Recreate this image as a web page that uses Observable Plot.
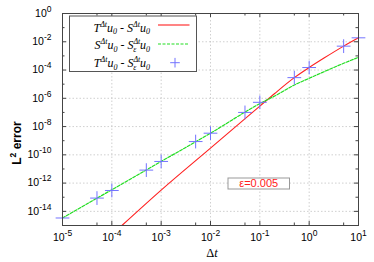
<!DOCTYPE html>
<html>
<head>
<meta charset="utf-8">
<script src="https://cdn.jsdelivr.net/npm/d3@7"></script>
<script src="https://cdn.jsdelivr.net/npm/@observablehq/plot@0.6"></script>
<style>
  html, body { margin: 0; padding: 0; background: white; }
  #chart { width: 374px; height: 262px; }
</style>
</head>
<body>
<div id="chart"></div>
<script>
// Tick positions
const xTicks = [1e-5, 1e-4, 1e-3, 1e-2, 1e-1, 1, 10];
const xMinor = [5e-5, 5e-4, 5e-3, 5e-2, 5e-1, 5];
const yTicks = [1, 1e-2, 1e-4, 1e-6, 1e-8, 1e-10, 1e-12, 1e-14];
const yMinor = [1e-1, 1e-3, 1e-5, 1e-7, 1e-9, 1e-11, 1e-13];

// Series: T^Δt u0 - S^Δt u0 (red line)
const dtRed  = [1.6e-4, 1e-3, 1e-2, 0.1, 0.2, 0.5, 1, 2, 5, 10];
const errRed = [1e-15, 3.2e-13, 3.0e-10, 2.8e-7, 2.2e-6, 2.9e-5, 1.5e-4, 7e-4, 4.9e-3, 1.9e-2];

// Series: S^Δt u0 - S_ε^Δt u0 (green dashed line)
const dtGreen  = [1e-5, 1e-4, 1e-3, 1e-2, 0.1, 0.2, 0.5, 1, 2, 5, 10];
const errGreen = [3.4e-15, 3.4e-13, 3.4e-11, 3.4e-9, 4.2e-7, 1.45e-6, 8.7e-6, 2.6e-5, 7.6e-5, 3e-4, 7.9e-4];

// Series: T^Δt u0 - S_ε^Δt u0 (blue plus points)
const dtPts  = [1e-5, 5e-5, 1e-4, 5e-4, 1e-3, 5e-3, 1e-2, 5e-2, 1e-1, 5e-1, 1, 5, 10];
const errPts = [3.4e-15, 8.7e-14, 3.0e-13, 8.3e-12, 3.4e-11, 8.7e-10, 3.4e-9, 1.0e-7, 5.2e-7, 2.9e-5, 1.5e-4, 4.9e-3, 1.9e-2];

const red = dtRed.map((dt, i) => ({dt, err: errRed[i]}));
const green = dtGreen.map((dt, i) => ({dt, err: errGreen[i]}));
const pts = dtPts.map((dt, i) => ({dt, err: errPts[i]}));

const fmt = d => "10^" + Math.round(Math.log10(d));
const frameH = 262 - 13 - 37;
const frameW = 374 - 62 - 16;
const tickCol = "#444";
const gridStyle = {stroke: "#c4c4c4", strokeDasharray: "1.5,2", strokeWidth: 0.8};

const chart = Plot.plot({
  width: 374, height: 262,
  marginLeft: 62, marginRight: 16, marginTop: 13, marginBottom: 37,
  x: {type: "log", domain: [1e-5, 10]},
  y: {type: "log", domain: [1e-15, 1]},
  style: {fontFamily: "'Liberation Sans', Arial, sans-serif", fontSize: "10.5px", background: "white", color: "#000"},
  marks: [
    Plot.ruleX(xTicks.slice(1, -1), gridStyle),
    Plot.ruleY(yTicks.slice(1), gridStyle),
    // ticks (inward, all four sides)
    Plot.ruleX(xTicks, {stroke: tickCol, insetTop: frameH - 4}),
    Plot.ruleX(xTicks, {stroke: tickCol, insetBottom: frameH - 4}),
    Plot.ruleX(xMinor, {stroke: tickCol, insetTop: frameH - 2.5}),
    Plot.ruleX(xMinor, {stroke: tickCol, insetBottom: frameH - 2.5}),
    Plot.ruleY(yTicks, {stroke: tickCol, insetRight: frameW - 4}),
    Plot.ruleY(yTicks, {stroke: tickCol, insetLeft: frameW - 4}),
    Plot.ruleY(yMinor, {stroke: tickCol, insetRight: frameW - 2.5}),
    Plot.ruleY(yMinor, {stroke: tickCol, insetLeft: frameW - 2.5}),
    Plot.line(red, {x: "dt", y: "err", stroke: "#ff2020", strokeWidth: 1.1, curve: "monotone-x"}),
    Plot.line(green, {x: "dt", y: "err", stroke: "#22dd22", strokeWidth: 1.2, strokeDasharray: "3,1.5", curve: "monotone-x"}),
    Plot.dot(pts, {x: "dt", y: "err", symbol: "plus", r: 4.5, stroke: "#7373ff", strokeWidth: 1}),
    Plot.frame({stroke: "#444"}),
    Plot.axisX({ticks: xTicks, tickSize: 0, tickPadding: 8, tickFormat: fmt, label: null}),
    Plot.axisY({ticks: yTicks, tickSize: 0, tickPadding: 11, tickFormat: fmt, label: null})
  ]
});

const ns = "http://www.w3.org/2000/svg";
// superscript exponents on tick labels
chart.querySelectorAll('[aria-label="x-axis tick label"] text, [aria-label="y-axis tick label"] text').forEach(t => {
  const parts = t.textContent.split("^");
  t.textContent = parts[0];
  const ts = document.createElementNS(ns, "tspan");
  ts.setAttribute("dy", "-5");
  ts.setAttribute("font-size", "8.5");
  ts.textContent = parts[1];
  t.appendChild(ts);
});

const svg = d3.select(chart);

// Axis labels
const yl = svg.append("text")
  .attr("transform", "translate(21,143) rotate(-90)")
  .attr("font-family", "'Liberation Sans', Arial, sans-serif")
  .attr("font-weight", "bold").attr("font-size", 12).attr("fill", "#000");
yl.append("tspan").text("L");
yl.append("tspan").attr("dy", -5).attr("font-size", 8.5).text("2");
yl.append("tspan").attr("dy", 5).text(" error");

const xl = svg.append("text")
  .attr("x", 212).attr("y", 257).attr("text-anchor", "middle")
  .attr("font-family", "'Liberation Serif', 'Times New Roman', serif")
  .attr("font-size", 12.5).attr("fill", "#000");
xl.append("tspan").text("Δ");
xl.append("tspan").attr("font-style", "italic").text("t");

// Legend
const lg = svg.append("g");
lg.append("rect").attr("x", 69.5).attr("y", 16).attr("width", 127).attr("height", 55.5)
  .attr("fill", "white").attr("stroke", "#555");

function legendText(y, a, b, eps) {
  const t = lg.append("text").attr("x", 150).attr("y", y).attr("text-anchor", "end")
    .attr("font-family", "'Liberation Serif', 'Times New Roman', serif")
    .attr("font-style", "italic").attr("font-size", 12).attr("fill", "#000");
  t.append("tspan").text(a);
  t.append("tspan").attr("dy", -5).attr("font-size", 8).text("Δt");
  t.append("tspan").attr("dy", 5).text("u");
  t.append("tspan").attr("dy", 2.5).attr("font-size", 8).text("0");
  t.append("tspan").attr("dy", -2.5).text(" - " + b);
  t.append("tspan").attr("dy", -5).attr("font-size", 8).text("Δt");
  if (eps) {
    t.append("tspan").attr("dx", -7.1).attr("dy", 7.5).attr("font-size", 8).text("ε");
    t.append("tspan").attr("dx", 3.6).attr("dy", -2.5).text("u");
  } else {
    t.append("tspan").attr("dy", 5).text("u");
  }
  t.append("tspan").attr("dy", 2.5).attr("font-size", 8).text("0");
}
legendText(31.5, "T", "S", false);
legendText(49.3, "S", "S", true);
legendText(67.3, "T", "S", true);

lg.append("line").attr("x1", 158).attr("x2", 189.5).attr("y1", 25).attr("y2", 25)
  .attr("stroke", "#ff2020").attr("stroke-width", 1.1);
lg.append("line").attr("x1", 158).attr("x2", 189.5).attr("y1", 44).attr("y2", 44)
  .attr("stroke", "#22dd22").attr("stroke-width", 1.2).attr("stroke-dasharray", "3,1.5");
lg.append("path").attr("d", "M170.2,62.7H179.8M175,57.9V67.5")
  .attr("stroke", "#7373ff").attr("stroke-width", 1).attr("fill", "none");

// Epsilon annotation box
svg.append("rect").attr("x", 228).attr("y", 178).attr("width", 61.5).attr("height", 11)
  .attr("fill", "white").attr("stroke", "#999");
svg.append("text").attr("x", 258.7).attr("y", 186.7).attr("text-anchor", "middle")
  .attr("font-family", "'Liberation Sans', Arial, sans-serif").attr("font-size", 11)
  .attr("fill", "#ff2020").text("ε=0.005");

document.getElementById("chart").appendChild(chart);
</script>
</body>
</html>
